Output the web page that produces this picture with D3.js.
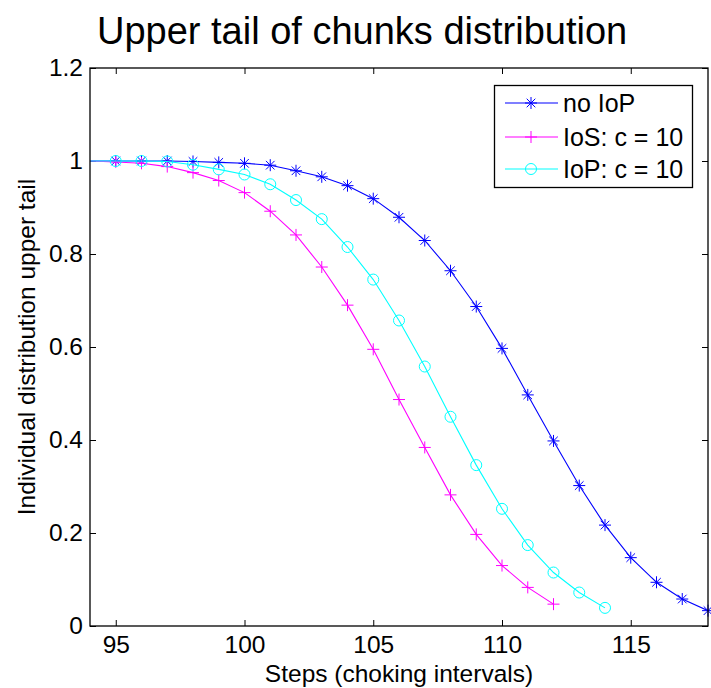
<!DOCTYPE html>
<html>
<head>
<meta charset="utf-8">
<script src="https://cdn.jsdelivr.net/npm/d3@7"></script>
<style>
  html, body { margin: 0; padding: 0; background: #fff; }
  svg { display: block; font-family: "Liberation Sans", Arial, sans-serif; }
</style>
</head>
<body>
<svg id="chart" width="711" height="688"></svg>
<script>
// ---- data ----
const title = "Upper tail of chunks distribution";
const xLabel = "Steps (choking intervals)";
const yLabel = "Individual distribution upper tail";
const xTicks = [95, 100, 105, 110, 115];
const yTicks = [0, 0.2, 0.4, 0.6, 0.8, 1, 1.2];

const stepsNoIoP = [93, 94, 95, 96, 97, 98, 99, 100, 101, 102, 103, 104, 105, 106, 107, 108, 109, 110, 111, 112, 113, 114, 115, 116, 117, 118];
const valuesNoIoP = [1, 1, 1.0, 1.0, 1.0, 0.999, 0.997, 0.995, 0.991, 0.979, 0.966, 0.947, 0.919, 0.879, 0.829, 0.764, 0.687, 0.597, 0.497, 0.398, 0.302, 0.217, 0.147, 0.094, 0.058, 0.033];

const stepsIoS = [93, 94, 95, 96, 97, 98, 99, 100, 101, 102, 103, 104, 105, 106, 107, 108, 109, 110, 111, 112];
const valuesIoS = [1, 1, 0.998, 0.995, 0.988, 0.975, 0.958, 0.932, 0.892, 0.841, 0.772, 0.690, 0.595, 0.487, 0.384, 0.282, 0.197, 0.130, 0.083, 0.047];

const stepsIoP = [93, 94, 95, 96, 97, 98, 99, 100, 101, 102, 103, 104, 105, 106, 107, 108, 109, 110, 111, 112, 113, 114];
const valuesIoP = [1, 1, 1.0, 1.0, 0.999, 0.992, 0.982, 0.971, 0.950, 0.916, 0.875, 0.815, 0.745, 0.657, 0.558, 0.450, 0.346, 0.252, 0.174, 0.115, 0.072, 0.039];

const seriesNames = ["no IoP", "IoS: c = 10", "IoP: c = 10"];
const seriesColors = ["#0000ff", "#ff00ff", "#00ffff"];
const seriesMarkers = ["asterisk", "plus", "circle"];

// ---- layout ----
const svg = d3.select("#chart");
const pLeft = 90, pRight = 708, pTop = 68, pBottom = 626;
const x = d3.scaleLinear().domain([94, 118]).range([pLeft, pRight]);
const y = d3.scaleLinear().domain([0, 1.2]).range([pBottom, pTop]);

const series = [
  { name: seriesNames[0], color: seriesColors[0], marker: seriesMarkers[0], pts: stepsNoIoP.map((s, i) => [s, valuesNoIoP[i]]) },
  { name: seriesNames[1], color: seriesColors[1], marker: seriesMarkers[1], pts: stepsIoS.map((s, i) => [s, valuesIoS[i]]) },
  { name: seriesNames[2], color: seriesColors[2], marker: seriesMarkers[2], pts: stepsIoP.map((s, i) => [s, valuesIoP[i]]) }
];

svg.append("defs").append("clipPath").attr("id", "plotclip")
  .append("rect").attr("x", pLeft).attr("y", pTop).attr("width", pRight - pLeft).attr("height", pBottom - pTop);

function markerPath(type) {
  const s = 6, a = 4.3;
  if (type === "asterisk") return `M${-s},0H${s}M0,${-s}V${s}M${-a},${-a}L${a},${a}M${-a},${a}L${a},${-a}`;
  if (type === "plus") return `M${-s},0H${s}M0,${-s}V${s}`;
  return null;
}
function drawMarker(g, type, color, cx, cy) {
  if (type === "circle") {
    g.append("circle").attr("cx", cx).attr("cy", cy).attr("r", 5.5)
      .attr("fill", "none").attr("stroke", color).attr("stroke-width", 1);
  } else {
    g.append("path").attr("d", markerPath(type)).attr("transform", `translate(${cx},${cy})`)
      .attr("fill", "none").attr("stroke", color).attr("stroke-width", 1);
  }
}

// axes (inward ticks on all four sides)
const fs = 24.5;
const gx = svg.append("g").attr("transform", `translate(0,${pBottom})`)
  .call(d3.axisBottom(x).tickValues(xTicks).tickSizeInner(-6).tickSizeOuter(0).tickPadding(10).tickFormat(d3.format("d")));
const gy = svg.append("g").attr("transform", `translate(${pLeft},0)`)
  .call(d3.axisLeft(y).tickValues(yTicks).tickSizeInner(-6).tickSizeOuter(0).tickPadding(7).tickFormat(d => String(+d.toFixed(1))));
const gt = svg.append("g").attr("transform", `translate(0,${pTop})`)
  .call(d3.axisTop(x).tickValues(xTicks).tickSizeInner(-6).tickSizeOuter(0).tickFormat(""));
const gr = svg.append("g").attr("transform", `translate(${pRight},0)`)
  .call(d3.axisRight(y).tickValues(yTicks).tickSizeInner(-6).tickSizeOuter(0).tickFormat(""));
[gx, gy, gt, gr].forEach(g => {
  g.select(".domain").remove();
  g.selectAll(".tick line").attr("stroke", "#000").attr("stroke-width", 1);
  g.selectAll(".tick text").attr("font-size", fs).attr("font-family", "Liberation Sans, Arial, sans-serif").attr("fill", "#000");
});

// lines and markers
const line = d3.line().x(d => x(d[0])).y(d => y(d[1]));
const plot = svg.append("g");
series.forEach(s => {
  plot.append("path").datum(s.pts).attr("d", line)
    .attr("fill", "none").attr("stroke", s.color).attr("stroke-width", 1.1)
    .attr("clip-path", "url(#plotclip)");
  const mg = plot.append("g");
  s.pts.filter(p => p[0] > x.domain()[0]).forEach(p => drawMarker(mg, s.marker, s.color, x(p[0]), y(p[1])));
});

// frame
svg.append("rect").attr("x", pLeft).attr("y", pTop).attr("width", pRight - pLeft).attr("height", pBottom - pTop)
  .attr("fill", "none").attr("stroke", "#000").attr("stroke-width", 1.3);

// legend
const lg = svg.append("g");
lg.append("rect").attr("x", 494.5).attr("y", 85.5).attr("width", 198).attr("height", 102)
  .attr("fill", "#fff").attr("stroke", "#000").attr("stroke-width", 1.3);
const rowY = [103, 137, 169];
series.forEach((s, i) => {
  lg.append("line").attr("x1", 505).attr("x2", 558).attr("y1", rowY[i]).attr("y2", rowY[i])
    .attr("stroke", s.color).attr("stroke-width", 1.1);
  drawMarker(lg, s.marker, s.color, 531, rowY[i]);
  lg.append("text").attr("x", 563).attr("y", rowY[i]).attr("dy", "0.35em")
    .attr("font-size", 25).attr("fill", "#000").text(s.name);
});

// title and labels
svg.append("text").attr("x", 97).attr("y", 44).attr("font-size", 38).attr("fill", "#000").text(title);
svg.append("text").attr("x", (pLeft + pRight) / 2).attr("y", 682).attr("text-anchor", "middle")
  .attr("font-size", fs).attr("fill", "#000").text(xLabel);
svg.append("text").attr("transform", `translate(35,${(pTop + pBottom) / 2}) rotate(-90)`)
  .attr("text-anchor", "middle").attr("font-size", fs).attr("fill", "#000").text(yLabel);
</script>
</body>
</html>
